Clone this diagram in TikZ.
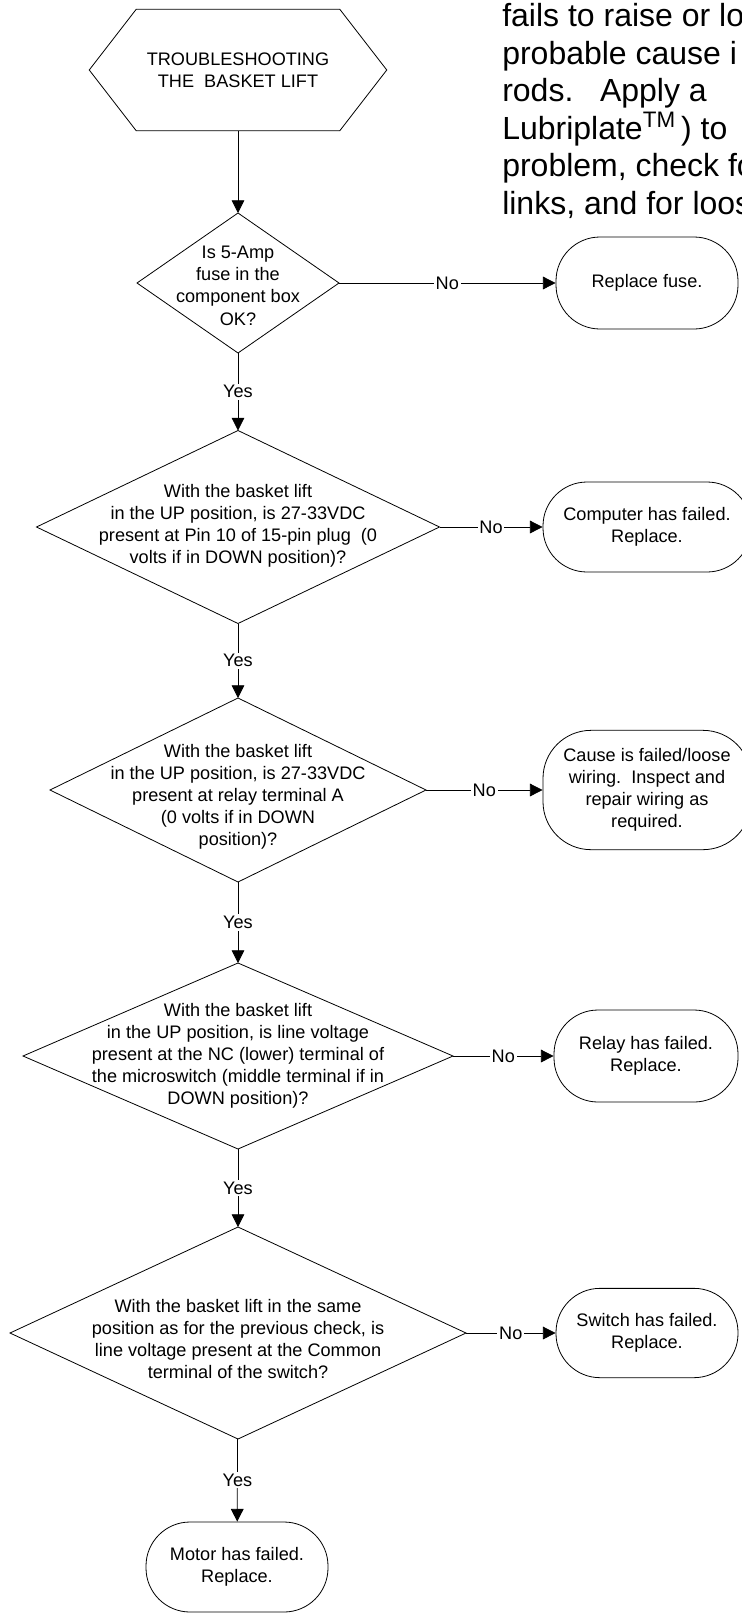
\documentclass[tikz,border=0pt]{standalone}
\usepackage{fontspec}
\setmainfont{Liberation Sans}
\usetikzlibrary{shapes.geometric,arrows.meta,positioning}

\newcommand{\flowfont}{\fontsize{13.6pt}{16.6pt}\selectfont}
\newcommand{\notefont}{\fontsize{24pt}{28.2pt}\selectfont}

\tikzset{
  outline/.style={draw,line width=0.6pt},
  decision/.style={outline,diamond,inner sep=0pt,outer sep=0pt},
  qtext/.style={align=center,inner sep=0pt,font=\flowfont},
  terminal/.style={outline,rectangle,align=center,font=\flowfont,
                   rounded corners=33pt,inner sep=0pt},
  flow/.style={line width=0.6pt,-{Triangle[length=9.5pt,width=9.5pt]}},
  answer/.style={fill=white,inner sep=1.3pt,font=\flowfont},
}

\begin{document}
\begin{tikzpicture}[x=0.75pt,y=-0.75pt,font=\flowfont]
  \useasboundingbox (0,0) rectangle (742,1617);

  % page text running past the right edge
  \node[anchor=north west,align=left,inner sep=0pt,font=\notefont] (note) at (502,3) {
    fails to raise or lo\\
    probable cause i\\
    rods.\hspace{20pt}Apply a\\
    Lubriplate\textsuperscript{TM}\,) to\\
    problem, check fo\\
    links, and for loos};

  % start
  \node[minimum width=222.75pt,minimum height=90.75pt,inner sep=0pt,
        align=center] (start) at (238,70) {TROUBLESHOOTING\\THE~~BASKET LIFT};
  \draw[outline] (start.west) -- ([xshift=35.25pt]start.north west)
    -- ([xshift=-35.25pt]start.north east) -- (start.east)
    -- ([xshift=-35.25pt]start.south east)
    -- ([xshift=35.25pt]start.south west) -- cycle;

  % checks
  \node[decision,minimum width=151.5pt,minimum height=105pt,
        label={[qtext,yshift=-2pt]center:{Is 5-Amp\\fuse in the\\component box\\OK?}}]
        (fuseok) at (238,283) {};
  \node[decision,minimum width=302.25pt,minimum height=144.75pt,
        label={[qtext,yshift=1pt]center:{With the basket lift\\in the UP position, is 27-33VDC\\
          present at Pin 10 of 15-pin plug~~(0\\volts if in DOWN position)?}}]
        (pin10) at (238,527) {};
  \node[decision,minimum width=282pt,minimum height=138pt,
        label={[qtext,yshift=-5pt]center:{With the basket lift\\in the UP position, is 27-33VDC\\
          present at relay terminal A\\(0 volts if in DOWN\\position)?}}]
        (relayA) at (238,790) {};
  \node[decision,minimum width=322.5pt,minimum height=139.5pt,
        label={[qtext]center:{With the basket lift\\in the UP position, is line voltage\\
          present at the NC (lower) terminal of\\the microswitch (middle terminal if in\\
          DOWN position)?}}]
        (ncterm) at (238,1056) {};
  \node[decision,minimum width=342pt,minimum height=159pt,
        label={[qtext,yshift=-4.5pt]center:{With the basket lift in the same\\
          position as for the previous check, is\\line voltage present at the Common\\
          terminal of the switch?}}]
        (common) at (238,1333) {};

  % outcomes
  \node[terminal,minimum width=136.5pt,minimum height=69pt] (newfuse) at (647,283)
    {Replace fuse.};
  \node[terminal,minimum width=156pt,minimum height=67.5pt] (computer) at (647,527)
    {Computer has failed.\\Replace.};
  \node[terminal,minimum width=156pt,minimum height=89.5pt,rounded corners=36pt]
    (wiring) at (647,790)
    {Cause is failed/loose\\wiring.~~Inspect and\\repair wiring as\\required.};
  \node[terminal,minimum width=138pt,minimum height=69pt] (relay) at (646,1056)
    {Relay has failed.\\Replace.};
  \node[terminal,minimum width=136.5pt,minimum height=67pt] (switch) at (647,1333)
    {Switch has failed.\\Replace.};
  \node[terminal,minimum width=136.5pt,minimum height=67.5pt] (motor) at (237,1567)
    {Motor has failed.\\Replace.};

  \draw[flow] (start) -- (fuseok);
  \draw[flow] (fuseok) -- node[answer] {No} (newfuse);
  \draw[flow] (fuseok) -- node[answer] {Yes} (pin10);
  \draw[flow] (pin10) -- node[answer] {No} (computer);
  \draw[flow] (pin10) -- node[answer] {Yes} (relayA);
  \draw[flow] (relayA) -- node[answer] {No} (wiring);
  \draw[flow] (relayA) -- node[answer] {Yes} (ncterm);
  \draw[flow] (ncterm) -- node[answer] {No} (relay);
  \draw[flow] (ncterm) -- node[answer] {Yes} (common);
  \draw[flow] (common) -- node[answer] {No} (switch);
  \draw[flow] (common) -- node[answer] {Yes} (motor);
\end{tikzpicture}
\end{document}
